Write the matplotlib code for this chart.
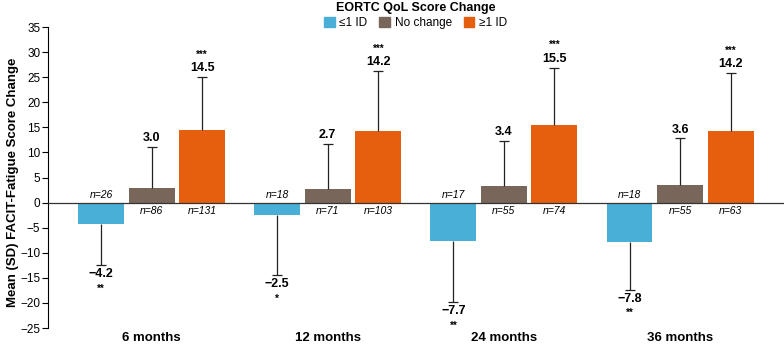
import matplotlib.pyplot as plt
import numpy as np
from matplotlib.patches import Patch

plt.rcParams['font.family'] = ['Liberation Sans', 'DejaVu Sans']

months = ['6 months', '12 months', '24 months', '36 months']
series = ['\u22641 ID', 'No change', '\u22651 ID']
colors = ['#4AAFD6', '#78665B', '#E65F0E']

means = [
    [-4.2, -2.5, -7.7, -7.8],
    [3.0, 2.7, 3.4, 3.6],
    [14.5, 14.2, 15.5, 14.2],
]
sds = [
    [8.3, 12.0, 12.2, 9.6],
    [8.1, 9.0, 8.9, 9.2],
    [10.5, 12.0, 11.4, 11.6],
]
ns = [
    [26, 18, 17, 18],
    [86, 71, 55, 55],
    [131, 103, 74, 63],
]
stars = [
    ['**', '*', '**', '**'],
    ['', '', '', ''],
    ['***', '***', '***', '***'],
]

fig = plt.figure(figsize=(7.84, 3.44), dpi=100)
ax = fig.add_axes([0.0612, 0.0465, 0.9388, 0.875])

x = np.arange(len(months))
width = 0.261
step = 0.287

for i in range(len(series)):
    xs = x + (i - 1) * step
    m = np.array(means[i])
    sd = np.array(sds[i])
    ax.bar(xs, m, width, color=colors[i], zorder=2)
    ends = m + np.sign(m) * sd
    ax.vlines(xs, m, ends, color='#222222', lw=0.9, zorder=3)
    ax.plot(xs, ends, ls='none', marker='_', ms=7.5, mew=0.9, color='#222222', zorder=3)
    for j in range(len(months)):
        if m[j] >= 0:
            ax.annotate(f'{m[j]:.1f}', (xs[j], ends[j]), xytext=(0, 2), textcoords='offset points',
                        ha='center', va='bottom', fontsize=9, fontweight='bold')
            if stars[i][j]:
                ax.annotate(stars[i][j], (xs[j], ends[j]), xytext=(0, 12.5), textcoords='offset points',
                            ha='center', va='bottom', fontsize=7, fontweight='bold')
        else:
            ax.annotate(f'\u2212{abs(m[j]):.1f}', (xs[j], ends[j]), xytext=(0, -2), textcoords='offset points',
                        ha='center', va='top', fontsize=9, fontweight='bold')
            if stars[i][j]:
                ax.annotate(stars[i][j], (xs[j], ends[j]), xytext=(0, -13), textcoords='offset points',
                            ha='center', va='top', fontsize=7, fontweight='bold')
        if i == 0:
            ax.annotate(f'n={ns[i][j]}', (xs[j], 0), xytext=(0, 2), textcoords='offset points',
                        ha='center', va='bottom', fontsize=7.5, style='italic')
        else:
            ax.annotate(f'n={ns[i][j]}', (xs[j], 0), xytext=(0, -2.5), textcoords='offset points',
                        ha='center', va='top', fontsize=7.5, style='italic')

ax.axhline(0, color='#333333', lw=0.9, zorder=4)
ax.set_xlim(-0.588, 3.59)
ax.set_ylim(-25, 35)
ax.set_yticks(np.arange(-25, 36, 5))
ax.tick_params(axis='y', labelsize=8.5, length=4, width=0.8, pad=1.5)
ax.set_xticks(x)
ax.set_xticklabels(months, fontsize=9.5, fontweight='bold')
ax.tick_params(axis='x', length=0, pad=3)
for s in ['top', 'right', 'bottom']:
    ax.spines[s].set_visible(False)
ax.spines['left'].set_linewidth(0.8)
ax.set_ylabel('Mean (SD) FACIT-Fatigue Score Change', fontsize=9.5, fontweight='bold')
ax.yaxis.set_label_coords(-0.04, 0.485)

handles = [Patch(color=c) for c in colors]
leg = fig.legend(handles, series, loc='upper center', bbox_to_anchor=(0.53, 1.025), ncol=3,
                 frameon=False, fontsize=8.5, title='EORTC QoL Score Change',
                 handlelength=0.9, handleheight=0.9, handletextpad=0.4, columnspacing=1.0)
leg.get_title().set_fontweight('bold')
leg.get_title().set_fontsize(9)
leg._legend_box.sep = 2

fig.savefig('out.png', dpi=100)
